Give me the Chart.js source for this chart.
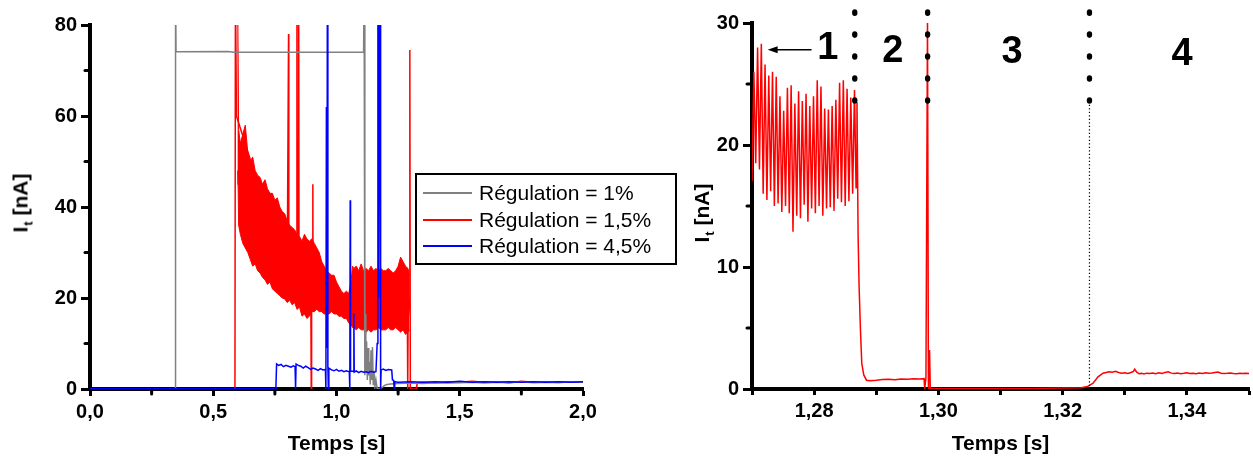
<!DOCTYPE html>
<html><head><meta charset="utf-8">
<script src="https://cdn.jsdelivr.net/npm/chart.js@4.4.1/dist/chart.umd.min.js"></script>
<style>
html,body{margin:0;padding:0;background:#fff;width:1253px;height:462px;overflow:hidden;font-family:'Liberation Sans',Arial,sans-serif;}
#cLeft{position:absolute;left:0;top:0;}
#cRight{position:absolute;left:690px;top:0;}
.ytitle{position:absolute;font-weight:bold;font-size:21px;white-space:nowrap;color:#000;transform:translate(-50%,-50%) rotate(-90deg);}
.ytitle sub{font-size:13px;vertical-align:-5px;margin-left:1px;}
#legend{position:absolute;left:415px;top:173px;width:258px;height:88px;border:2px solid #000;background:#fff;box-sizing:content-box;}
#legend .row{position:absolute;left:0;width:258px;height:27px;}
#legend .sw{position:absolute;left:6px;top:12px;width:49px;height:2px;}
#legend .tx{position:absolute;left:62px;top:1px;font-size:21px;line-height:24px;color:#000;white-space:nowrap;}
</style></head>
<body>
<canvas id="cLeft" width="690" height="462"></canvas>
<canvas id="cRight" width="563" height="462"></canvas>
<div class="ytitle" style="left:22px;top:203px;">I<sub>t</sub> [nA]</div>
<div class="ytitle" style="left:703px;top:213px;">I<sub>t</sub> [nA]</div>
<div id="legend"></div>
<script>
// ---------------- data : left panel ----------------
const seriesLabels = ['Régulation = 1%', 'Régulation = 1,5%', 'Régulation = 4,5%'];

const grayT = [0,0.345,0.347,0.349,0.56,0.585,1.110,1.112,1.115,1.117,1.119,1.122,1.125,1.128,1.131,1.134,1.137,1.140,1.143,1.146,1.149,1.152,1.156,1.160,1.165,1.175,1.185,1.195,1.205,1.22,1.25,1.30,1.35,1.40,1.45,1.50,1.55,1.60,1.65,1.70,1.75,1.80,1.85,1.90,1.95,2.00];
const grayI = [0.05,0.05,90,74.1,74.2,74.0,74.0,90,3,16.5,4,10.5,2,9,3,6,1,8.5,2,9.2,1,4,0.5,2,0.1,0.1,0.3,0.8,1.0,1.1,1.2,1.3,1.2,1.4,1.3,1.4,1.5,1.3,1.5,1.4,1.6,1.4,1.5,1.4,1.6,1.5];

const redT = [0,0.588,0.590,0.594,0.800,0.8055,0.8065,0.838,0.8395,0.841,0.845,0.8465,0.848,0.896,0.8975,0.899,0.903,0.904,0.905,1.285,1.2875,1.2890,1.2905,1.295,1.2975,1.2995,1.320,1.324,1.328,1.35,1.40,1.45,1.50,1.55,1.60,1.65,1.70,1.75,1.80,1.85,1.90,1.95,2.00];
const redI = [0,0,90,60,25,78,25,25,90,25,25,90,25,20,0,20,20,45,20,20,15,0,15,20,74.5,0,0,0.1,1.4,1.5,1.4,1.6,1.5,1.7,1.5,1.6,1.4,1.7,1.5,1.6,1.5,1.6,1.5];

// envelope of the dense 1,5% oscillation band
const bandT = [0.598,0.600,0.603,0.61,0.62,0.63,0.64,0.65,0.66,0.67,0.68,0.69,0.70,0.71,0.72,0.73,0.74,0.75,0.76,0.77,0.78,0.79,0.80,0.81,0.82,0.83,0.84,0.85,0.86,0.87,0.88,0.89,0.90,0.91,0.92,0.93,0.94,0.95,0.96,0.97,0.98,0.99,1.00,1.01,1.02,1.03,1.04,1.05,1.06,1.065,1.07,1.08,1.09,1.10,1.11,1.12,1.13,1.14,1.15,1.16,1.17,1.18,1.19,1.20,1.21,1.22,1.23,1.24,1.25,1.26,1.27,1.28,1.29,1.296];
const bandHigh = [82,80,57,54,56,58,52,50,51,48,47,46.5,45,46,44,43,43,41.5,42,40,39,38.5,37,36,35.5,35,34,33.5,32.5,34,33,32.5,33,32,31,30,28,27,26,25.5,25,25,23.5,22.5,21.5,21,21.5,21,24,27,26.5,27,26,27.5,26,26.5,26,27,26,26.5,26,26.5,26,26,26.5,26,25.5,26,27,29,28,27,26.5,25];
const bandLow = [45,48,36,34,32,31,30,28.5,27,27.5,26,25.5,24.5,24,23,23.5,22,21.5,21,20.5,20,19.8,19,19.5,18.5,19,17.5,18,16,16.5,15.5,16,17,17,17.5,17,17,16.5,16.5,16.5,17,16.5,16.5,16,16,15.5,15.5,14.5,14,13.5,13.5,13,13.5,13,13,12.5,13,12.5,13,13,13.5,13,13,13,13.5,13,13,13.5,13,12.5,13,12,12.5,13];

const blueT = [0,0.754,0.757,0.765,0.775,0.785,0.795,0.805,0.815,0.825,0.832,0.834,0.836,0.845,0.855,0.865,0.875,0.885,0.895,0.905,0.915,0.925,0.935,0.945,0.955,0.957,0.959,0.961,0.963,0.965,0.967,0.969,0.98,0.99,1.00,1.01,1.02,1.03,1.04,1.052,1.054,1.0556,1.057,1.069,1.0705,1.072,1.08,1.09,1.10,1.11,1.12,1.13,1.14,1.15,1.160,1.165,1.168,1.171,1.174,1.177,1.179,1.181,1.19,1.20,1.21,1.224,1.227,1.232,1.234,1.236,1.25,1.30,1.35,1.40,1.45,1.50,1.55,1.60,1.65,1.70,1.75,1.80,1.85,1.90,1.95,2.00];
const blueI = [0.05,0.05,5.5,5.2,5.4,4.9,5.2,5.0,4.8,5.1,4.9,0,5.5,5.2,5.0,4.6,5.0,4.7,4.3,4.6,4.4,4.1,4.5,4.2,4.3,0,62,9,90,5,0,4.6,4.2,4.0,4.3,3.9,4.1,3.8,4.0,3.8,0,41.5,3.9,3.9,16.6,3.7,4.0,3.6,3.9,3.7,3.8,3.6,3.9,3.7,3.8,10,90,20,90,90,0,4.2,4.4,4.1,4.3,4.2,2.0,1.9,0,1.6,1.5,1.6,1.5,1.6,1.5,1.7,1.5,1.6,1.5,1.6,1.5,1.6,1.5,1.6,1.5,1.6];

const leftXMajor = [0, 0.5, 1.0, 1.5, 2.0];
const leftXLabels = ['0,0', '0,5', '1,0', '1,5', '2,0'];
const leftXMinor = [0.25, 0.75, 1.25, 1.75];
const leftYMajor = [0, 20, 40, 60, 80];
const leftYLabels = ['0', '20', '40', '60', '80'];
const leftYMinor = [10, 30, 50, 70];

// ---------------- data : right panel (zoom, 1,5%) ----------------
const oscT = [1.27000,1.27030,1.27060,1.27090,1.27120,1.27150,1.27180,1.27210,1.27240,1.27270,
1.27300,1.27330,1.27360,1.27390,1.27420,1.27450,1.27480,1.27510,1.27540,1.27570,
1.27600,1.27630,1.27660,1.27690,1.27720,1.27750,1.27780,1.27810,1.27840,1.27870,
1.27900,1.27930,1.27960,1.27990,1.28020,1.28050,1.28080,1.28110,1.28140,1.28170,
1.28200,1.28230,1.28260,1.28290,1.28320,1.28350,1.28380,1.28410,1.28440,1.28470,
1.28500,1.28530,1.28560,1.28590,1.28620,1.28650,1.28675,1.28690];
const oscI = [17.0,26.0,18.5,28.0,18.0,28.3,16.0,26.6,15.5,25.7,
16.2,26.0,15.0,25.6,15.2,24.0,14.5,22.8,15.0,24.7,
14.4,24.9,12.9,23.4,14.2,24.4,14.0,23.6,15.1,24.2,
13.7,23.2,14.8,24.0,14.4,25.3,15.0,24.8,14.2,23.0,
14.8,22.9,14.9,23.2,14.6,23.7,15.6,25.1,15.3,25.3,
15.0,24.6,15.4,23.9,16.0,24.5,16.5,23.5];
const stage2T = [1.28708,1.28724,1.28746,1.28767,1.28799,1.28843,1.2890,1.2900,1.2910,1.2920,1.2930,1.2940,1.2950,1.2960,1.2970,1.29770];
const stage2I = [12.5,8.4,4.8,2.1,1.15,0.72,0.68,0.72,0.78,0.80,0.76,0.82,0.80,0.84,0.82,0.85];
const stage3T = [1.29780,1.29800,1.29825,1.29840,1.29858,1.29870,1.29900,1.3050,1.3150,1.3230,1.3240,1.3249,1.3257,1.3265];
const stage3I = [0,0.9,30.5,0,3.2,0,0.05,0.05,0.05,0.1,0.2,0.47,1.0,1.3];
const stage4T = [1.3270,1.3275,1.3280,1.3285,1.3290,1.3295,1.3300,1.3305,1.3310,1.3314,1.3316,1.3319,1.3323,1.3327,1.3331,1.3335,1.3340,1.3345,1.3350,1.3355,1.3360,1.3365,1.3370,1.3375,1.3380,1.3385,1.3390,1.3395,1.3400,1.3405,1.3410,1.3415,1.3420,1.3425,1.3430,1.3435,1.3440,1.3445,1.3450,1.3455,1.3460,1.3465,1.3470,1.3475,1.3480,1.3485,1.3490,1.3495,1.3500];
const stage4I = [1.35,1.42,1.38,1.45,1.36,1.30,1.33,1.28,1.35,1.45,1.62,1.40,1.25,1.28,1.24,1.30,1.27,1.32,1.26,1.33,1.28,1.36,1.41,1.30,1.27,1.31,1.26,1.29,1.33,1.28,1.30,1.26,1.31,1.28,1.34,1.29,1.31,1.35,1.39,1.30,1.27,1.29,1.32,1.28,1.26,1.30,1.27,1.29,1.28];

const rightXTicks = [1.27,1.28,1.29,1.30,1.31,1.32,1.33,1.34,1.35];
const rightXLabels = ['','1,28','','1,30','','1,32','','1,34',''];
const rightYMajor = [0, 10, 20, 30];
const rightYLabels = ['0', '10', '20', '30'];
const rightYMinor = [5, 15, 25];

// phase separators (big dotted lines) and labels
const dividerT = [1.28654, 1.29827, 1.32432];
const dividerDots = [30.85, 29.05, 27.25, 25.45, 23.65];
const finalDottedT = 1.32432;
const finalDottedI = [23.3, 0];
const phaseLabels = ['1', '2', '3', '4'];
const phaseT = [1.28221, 1.29265, 1.31185, 1.33924];
const phaseI = [27.9, 27.7, 27.6, 27.4];
const arrowT = [1.27959, 1.27252];
const arrowI = 27.8;

// ---------------- helpers ----------------
const FONT = "'Liberation Sans', Arial, sans-serif";
Chart.defaults.font.family = FONT;
Chart.defaults.color = '#000';
const zip = (t, v) => t.map((x, i) => ({x: x, y: v[i]}));

const minorTicks = {
  id: 'minorTicks',
  afterDraw(chart, args, o) {
    const ctx = chart.ctx, ca = chart.chartArea;
    ctx.save();
    ctx.strokeStyle = '#000'; ctx.lineWidth = o.width; ctx.lineCap = 'round';
    (o.x || []).forEach(v => { const p = chart.scales.x.getPixelForValue(v); ctx.beginPath(); ctx.moveTo(p, ca.bottom + 1); ctx.lineTo(p, ca.bottom + o.len); ctx.stroke(); });
    (o.y || []).forEach(v => { const p = chart.scales.y.getPixelForValue(v); ctx.beginPath(); ctx.moveTo(ca.left - 1, p); ctx.lineTo(ca.left - o.len, p); ctx.stroke(); });
    ctx.restore();
  }
};

function axis(min, max, major, labels, fitFn, tickLen, title) {
  return {
    type: 'linear', min: min, max: max,
    afterBuildTicks: s => { s.ticks = major.map(v => ({value: v})); },
    afterFit: fitFn,
    ticks: {callback: (v, i) => labels[i], font: {size: 20, weight: 'bold'}, color: '#000', padding: 4, autoSkip: false, maxRotation: 0},
    grid: {display: true, drawOnChartArea: false, drawTicks: true, tickLength: tickLen, tickWidth: 3, tickColor: '#000', color: '#000'},
    border: {display: true, color: '#000', width: 4},
    title: title ? {display: true, text: title, font: {size: 21, weight: 'bold'}, color: '#000', padding: {top: 0, bottom: 5}} : {display: false}
  };
}

// ---------------- left chart ----------------
const leftChart = new Chart(document.getElementById('cLeft'), {
  type: 'line',
  data: {datasets: [
    {label: seriesLabels[0], data: zip(grayT, grayI), borderColor: '#808080', borderWidth: 1.5, pointRadius: 0, fill: false, order: 1},
    {label: seriesLabels[1], data: zip(redT, redI), borderColor: '#ff0000', borderWidth: 1.5, pointRadius: 0, fill: false, order: 2},
    {data: zip(bandT, bandHigh), borderColor: '#ff0000', backgroundColor: '#ff0000', borderWidth: 1, pointRadius: 0, fill: '+1', order: 3},
    {data: zip(bandT, bandLow), borderColor: '#ff0000', borderWidth: 1, pointRadius: 0, fill: false, order: 3},
    {label: seriesLabels[2], data: zip(blueT, blueI), borderColor: '#0000ff', borderWidth: 1.5, pointRadius: 0, fill: false, order: 0}
  ]},
  options: {
    responsive: false, animation: false, devicePixelRatio: 1,
    layout: {padding: {top: 25, right: 107, left: 0, bottom: 0}},
    plugins: {legend: {display: false}, tooltip: {enabled: false},
      minorTicks: {x: leftXMinor, y: leftYMinor, len: 5, width: 3}},
    scales: {
      x: axis(0, 2, leftXMajor, leftXLabels, s => { s.height = 73; }, 7, 'Temps [s]'),
      y: axis(0, 80, leftYMajor, leftYLabels, s => { s.width = 90; }, 9, null)
    }
  },
  plugins: [minorTicks]
});

// HTML legend built from the dataset labels and colours
const lg = document.getElementById('legend');
leftChart.data.datasets.filter(d => d.label).forEach((d, i) => {
  const row = document.createElement('div'); row.className = 'row'; row.style.top = (5 + Math.round(i * 26.7)) + 'px';
  const sw = document.createElement('span'); sw.className = 'sw'; sw.style.background = d.borderColor;
  const tx = document.createElement('span'); tx.className = 'tx'; tx.textContent = d.label;
  row.appendChild(sw); row.appendChild(tx); lg.appendChild(row);
});

// ---------------- right chart ----------------
const phasePlugin = {
  id: 'phases',
  afterDatasetsDraw(chart) {
    const xs = chart.scales.x, ys = chart.scales.y, ctx = chart.ctx;
    ctx.save();
    ctx.fillStyle = '#000';
    // separator dots
    dividerT.forEach(t => dividerDots.forEach(v => {
      ctx.beginPath();
      ctx.ellipse(xs.getPixelForValue(t), ys.getPixelForValue(v), 2.7, 3.3, 0, 0, Math.PI * 2);
      ctx.fill();
    }));
    ctx.font = "bold 38px " + FONT;
    ctx.textAlign = 'center'; ctx.textBaseline = 'middle';
    phaseLabels.forEach((t, i) => ctx.fillText(t, xs.getPixelForValue(phaseT[i]), ys.getPixelForValue(phaseI[i])));
    const x1 = xs.getPixelForValue(arrowT[0]), x2 = xs.getPixelForValue(arrowT[1]), y = ys.getPixelForValue(arrowI);
    ctx.strokeStyle = '#000'; ctx.lineWidth = 1.5;
    ctx.beginPath(); ctx.moveTo(x1, y); ctx.lineTo(x2 + 6, y); ctx.stroke();
    ctx.beginPath(); ctx.moveTo(x2, y); ctx.lineTo(x2 + 10, y - 3.5); ctx.lineTo(x2 + 10, y + 3.5); ctx.closePath(); ctx.fill();
    ctx.restore();
  }
};

new Chart(document.getElementById('cRight'), {
  type: 'line',
  data: {datasets: [
    {label: seriesLabels[1], data: zip([].concat(oscT, stage2T, stage3T, stage4T), [].concat(oscI, stage2I, stage3I, stage4I)), borderColor: '#ff0000', borderWidth: 1.5, pointRadius: 0, fill: false, order: 2},
    {data: zip([finalDottedT, finalDottedT], finalDottedI), borderColor: '#000', borderWidth: 1.2, borderDash: [1.3, 2.2], pointRadius: 0, fill: false, order: 1}
  ]},
  options: {
    responsive: false, animation: false, devicePixelRatio: 1,
    layout: {padding: {top: 23, right: 3, left: 0, bottom: 0}},
    plugins: {legend: {display: false}, tooltip: {enabled: false},
      minorTicks: {x: [], y: rightYMinor, len: 5, width: 3}},
    scales: {
      x: axis(1.27, 1.35, rightXTicks, rightXLabels, s => { s.height = 73; }, 6, 'Temps [s]'),
      y: axis(0, 30, rightYMajor, rightYLabels, s => { s.width = 62; }, 9, null)
    }
  },
  plugins: [minorTicks, phasePlugin]
});
</script>
</body></html>
